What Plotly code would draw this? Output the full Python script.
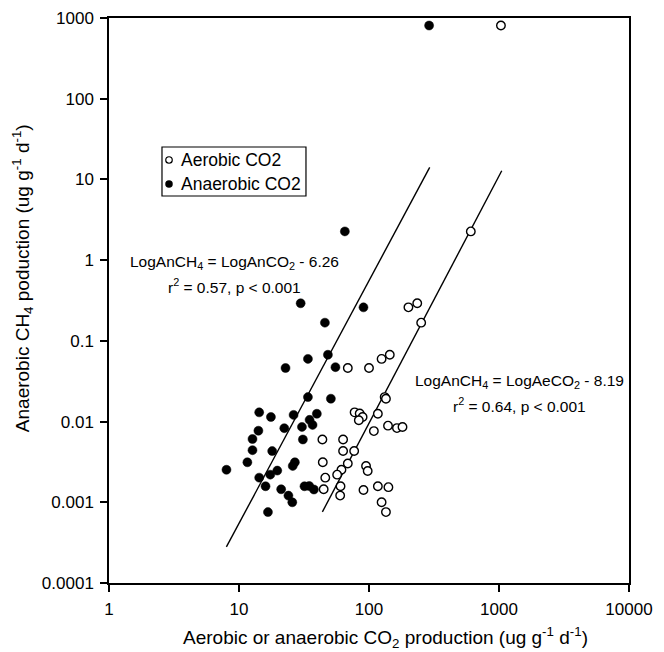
import plotly.graph_objects as go

# Aerobic CO2 (open circles)
aer_x = [1035, 607, 201, 235, 252, 144.5, 125, 100, 68.7, 132, 135, 77.5, 84.8, 89.3, 83.5,
         117, 140, 164, 181, 109, 43.8, 63.2, 63.2, 76.9, 44.1, 68.7, 94.9, 97.7, 61.4, 56.9,
         46.1, 60.4, 44.8, 60.0, 90.7, 117, 141, 125, 135]
aer_y = [807, 2.27, 0.26, 0.292, 0.168, 0.0673, 0.0598, 0.0461, 0.0461, 0.0201, 0.0192, 0.013,
         0.0126, 0.0114, 0.0104, 0.0125, 0.0089, 0.0083, 0.00858, 0.00762, 0.0060, 0.0060,
         0.00431, 0.00431, 0.00313, 0.00302, 0.00282, 0.00244, 0.00253, 0.0022, 0.00202,
         0.00158, 0.00145, 0.00121, 0.00142, 0.00158, 0.00154, 0.0010, 0.000756]

# Anaerobic CO2 (filled circles)
ana_x = [290, 65.2, 29.8, 90.7, 45.8, 33.9, 48.3, 22.8, 55.2, 33.9, 50.9, 14.3, 17.6, 26.3,
         39.7, 34.9, 36.8, 30.5, 22.3, 14.1, 12.7, 31.0, 12.7, 18.0, 11.6, 26.9, 25.9, 8.01,
         19.7, 17.4, 14.3, 16.0, 21.1, 31.9, 34.7, 37.7, 24.0, 25.7, 16.7]
ana_y = [807, 2.27, 0.292, 0.26, 0.168, 0.0598, 0.0673, 0.0461, 0.0472, 0.0201, 0.0192, 0.013,
         0.0114, 0.0121, 0.0125, 0.0105, 0.0091, 0.00858, 0.00828, 0.0077, 0.00608, 0.0060,
         0.00442, 0.00431, 0.00313, 0.00313, 0.00282, 0.00253, 0.00247, 0.0022, 0.00202,
         0.00158, 0.00145, 0.00158, 0.00159, 0.00144, 0.00121, 0.0010, 0.000756]

# Regression line end points
fit_an_x = [8.0, 293]
fit_an_y = [0.00028, 14.1]
fit_ae_x = [43.8, 1050]
fit_ae_y = [0.00076, 12.8]

series_names = ["Aerobic CO2", "Anaerobic CO2"]

x_ticks = [1, 10, 100, 1000, 10000]
x_ticktext = ["1", "10", "100", "1000", "10000"]
y_ticks = [0.0001, 0.001, 0.01, 0.1, 1, 10, 100, 1000]
y_ticktext = ["0.0001", "0.001", "0.01", "0.1", "1", "10", "100", "1000"]

FONT = "Liberation Sans, Arial, sans-serif"

fig = go.Figure()
fig.add_trace(go.Scatter(x=fit_an_x, y=fit_an_y, mode="lines",
                         line=dict(color="black", width=1.4), showlegend=False, hoverinfo="skip"))
fig.add_trace(go.Scatter(x=fit_ae_x, y=fit_ae_y, mode="lines",
                         line=dict(color="black", width=1.4), showlegend=False, hoverinfo="skip"))
fig.add_trace(go.Scatter(x=aer_x, y=aer_y, mode="markers", name=series_names[0], showlegend=False,
                         marker=dict(symbol="circle", size=8.5, color="white",
                                     line=dict(color="black", width=1.4))))
fig.add_trace(go.Scatter(x=ana_x, y=ana_y, mode="markers", name=series_names[1], showlegend=False,
                         marker=dict(symbol="circle", size=9, color="black",
                                     line=dict(color="black", width=0.5))))

# Hand-drawn legend (box + keys on an invisible overlay axis spanning the plot area)
leg_key_x = [0.1154, 0.1154]
leg_key_y = [0.7487, 0.7062]
fig.add_trace(go.Scatter(x=[leg_key_x[0]], y=[leg_key_y[0]], xaxis="x2", yaxis="y2",
                         mode="markers", showlegend=False, hoverinfo="skip",
                         marker=dict(symbol="circle", size=6.5, color="white",
                                     line=dict(color="black", width=1.2))))
fig.add_trace(go.Scatter(x=[leg_key_x[1]], y=[leg_key_y[1]], xaxis="x2", yaxis="y2",
                         mode="markers", showlegend=False, hoverinfo="skip",
                         marker=dict(symbol="circle", size=7.5, color="black")))
fig.add_shape(type="rect", xref="paper", yref="paper", x0=0.1019, x1=0.3788, y0=0.6850, y1=0.7717,
              line=dict(color="black", width=1.2), fillcolor="rgba(0,0,0,0)", layer="above")
for name, ky in zip(series_names, leg_key_y):
    fig.add_annotation(x=0.1355, y=ky, xref="paper", yref="paper", xanchor="left", yanchor="middle",
                       showarrow=False, text=name, font=dict(family=FONT, size=17.5, color="black"))

ann_font = dict(family=FONT, size=15.5, color="black")
fig.add_annotation(x=0.962, y=-0.025, xref="x", yref="y", showarrow=False,
                   text="LogAnCH<sub>4</sub> = LogAnCO<sub>2</sub> - 6.26", font=ann_font)
fig.add_annotation(x=0.962, y=-0.318, xref="x", yref="y", showarrow=False,
                   text="r<sup>2</sup> = 0.57, p < 0.001", font=ann_font)
fig.add_annotation(x=3.158, y=-1.501, xref="x", yref="y", showarrow=False,
                   text="LogAnCH<sub>4</sub> = LogAeCO<sub>2</sub> - 8.19", font=ann_font)
fig.add_annotation(x=3.158, y=-1.789, xref="x", yref="y", showarrow=False,
                   text="r<sup>2</sup> = 0.64, p < 0.001", font=ann_font)

# Axis titles
title_font = dict(family=FONT, size=19, color="black")
fig.add_annotation(x=0.531, y=-0.0956, xref="paper", yref="paper", showarrow=False,
                   xanchor="center", yanchor="middle", font=title_font,
                   text="Aerobic or anaerobic CO<sub>2</sub> production (ug g<sup>-1</sup> d<sup>-1</sup>)")
fig.add_annotation(x=-0.167, y=0.5398, xref="paper", yref="paper", showarrow=False,
                   xanchor="center", yanchor="middle", textangle=-90, font=title_font,
                   text="Anaerobic CH<sub>4</sub> poduction (ug g<sup>-1</sup> d<sup>-1</sup>)")

axis_common = dict(showgrid=False, zeroline=False, showline=True, linecolor="black", linewidth=1.5,
                   mirror=True, ticks="outside", ticklen=7, tickwidth=1.5, tickcolor="black",
                   automargin=False, ticklabeloverflow="allow", ticklabelstandoff=3,
                   tickfont=dict(family=FONT, size=17, color="black"))

fig.update_layout(
    width=664, height=652,
    margin=dict(l=101, r=43, t=10, b=77),
    paper_bgcolor="white", plot_bgcolor="white",
    font=dict(family=FONT, size=16, color="black"),
    showlegend=False,
    xaxis=dict(type="log", range=[0, 4], tickvals=x_ticks, ticktext=x_ticktext, **axis_common),
    yaxis=dict(type="log", range=[-4, 3], tickvals=y_ticks, ticktext=y_ticktext, **axis_common),
    xaxis2=dict(overlaying="x", range=[0, 1], visible=False, anchor="y2"),
    yaxis2=dict(overlaying="y", range=[0, 1], visible=False, anchor="x2"),
)

fig.write_html("out.html")
